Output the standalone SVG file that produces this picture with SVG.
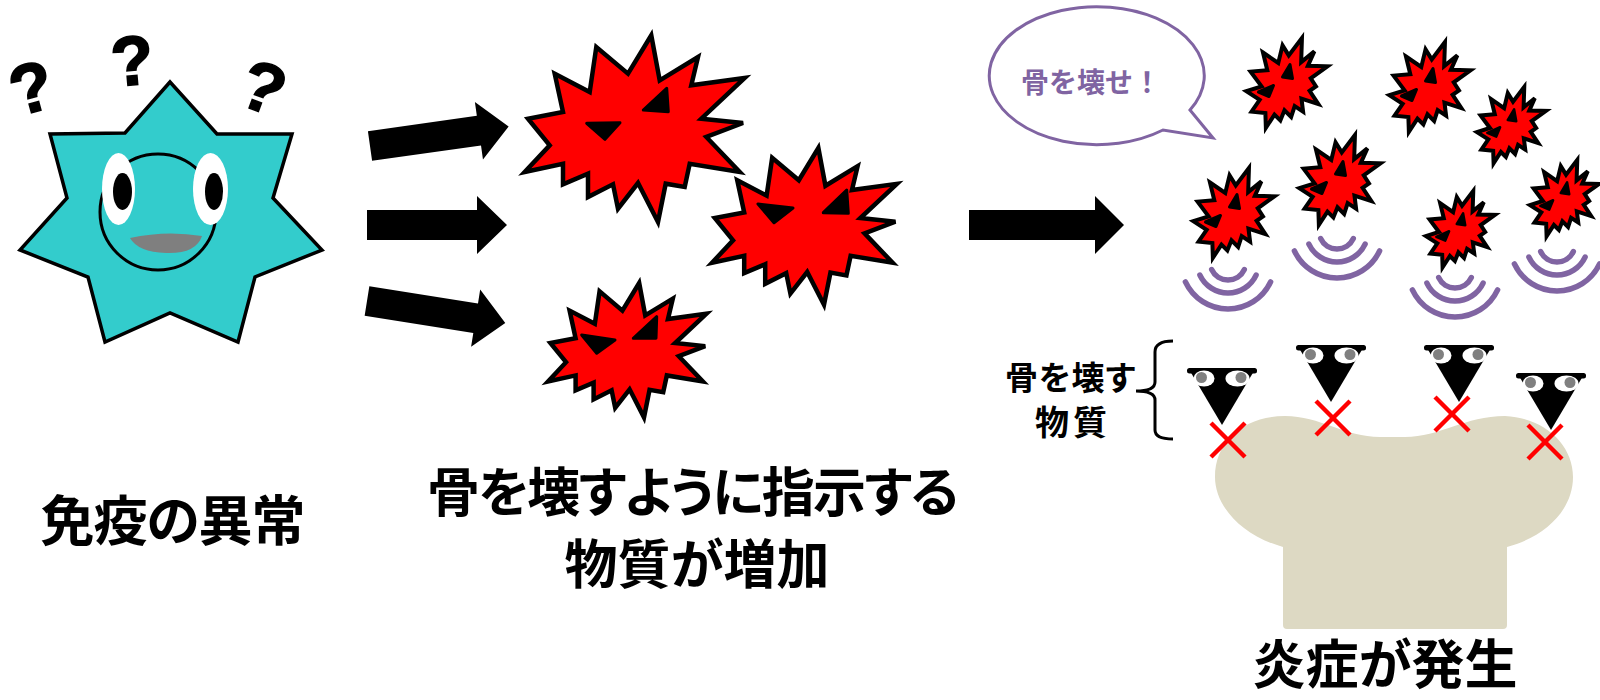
<svg xmlns="http://www.w3.org/2000/svg" xmlns:xlink="http://www.w3.org/1999/xlink" width="1600" height="700" viewBox="0 0 1600 700">
  <style>
    .label { font-family: "Noto Sans CJK JP", "Noto Sans", sans-serif; font-weight: bold; fill: #000; font-feature-settings: "palt"; }
    .qmark { font-family: "Liberation Sans", Arial, sans-serif; font-weight: bold; font-size: 70px; fill: #000; stroke: #000; stroke-width: 1.5; }
    .germ { fill: #FF0000; stroke: #000; stroke-linejoin: miter; }
    .eye { fill: #000; stroke: #000; stroke-width: 3; stroke-linejoin: round; }
    .wave { fill: none; stroke: #8064A2; stroke-width: 5.5; stroke-linecap: round; }
    .arrow { fill: #000; }
    .cross { stroke: #FF0000; stroke-width: 4.5; }
  </style>
  <defs>
    <!-- spiky cell outline, centred on the origin -->
    <path id="spike" vector-effect="non-scaling-stroke" d="M18.3,-91.7 L26.7,-46.7 L65,-70 L58.3,-41.7 L111.7,-49 L68.3,-8.3 L110,-4 L73.3,10 L106.7,45 L56.7,36.7 L51.7,60 L32.7,56.7 L25,95 L5,56 L-15,81.7 L-20,57.3 L-45,70 L-45,46.7 L-70,57.3 L-70,36.7 L-108.3,45 L-83.3,18.3 L-105,-8.3 L-70,-15 L-78.3,-53.3 L-43.3,-35 L-36.7,-80 L-5,-53.3 Z"/>
    <!-- small tilted cell with two eyes -->
    <g id="mini">
      <use href="#spike" class="germ" style="stroke-width:4" transform="scale(0.405) rotate(-45)"/>
      <polygon class="eye" style="stroke-width:3" points="-1.5,-7 6,-19.5 8.5,-5.5"/>
      <polygon class="eye" style="stroke-width:3" points="-25.5,8 -10.5,1.5 -15,12.5"/>
    </g>
    <!-- signal waves below a cell -->
    <g id="waves">
      <path class="wave" d="M16.3,7.6 A18,18 0 0 1 -16.3,7.6"/>
      <path class="wave" d="M28.1,13.1 A31,31 0 0 1 -28.1,13.1"/>
      <path class="wave" d="M42.6,19.9 A47,47 0 0 1 -42.6,19.9"/>
    </g>
    <!-- black triangle with eyes -->
    <g id="breaker">
      <rect x="-35" y="0" width="70" height="5.5" rx="2.5" fill="#000"/>
      <polygon points="-32,3 32,3 0,57" fill="#000"/>
      <ellipse cx="-18" cy="10.5" rx="10.5" ry="8" fill="#fff"/>
      <ellipse cx="15.5" cy="10.5" rx="12" ry="8" fill="#fff"/>
      <circle cx="-20.5" cy="9.5" r="5.5" fill="#808080"/>
      <circle cx="19" cy="9.5" r="5.5" fill="#808080"/>
    </g>
    <g id="xmark">
      <line class="cross" x1="-17" y1="-17" x2="17" y2="17"/>
      <line class="cross" x1="17" y1="-17" x2="-17" y2="17"/>
    </g>
  </defs>

  <rect width="1600" height="700" fill="#fff"/>

  <!-- confused immune cell -->
  <g id="immune-cell">
    <text class="qmark" x="31" y="112" text-anchor="middle" transform="rotate(-15 31 86)">?</text>
    <text class="qmark" x="132" y="85" text-anchor="middle" transform="rotate(-5 132 58)">?</text>
    <text class="qmark" x="264" y="112" text-anchor="middle" transform="rotate(20 264 86)">?</text>
    <polygon points="170,82 217,134 292,134 273,198 322,250 255,277 238,342 170,313 105,342 88,277 20,250 67,198 50,134 125,133" fill="#33CCCC" stroke="#000" stroke-width="3.5" stroke-linejoin="miter"/>
    <circle cx="158" cy="212" r="58" fill="none" stroke="#000" stroke-width="3"/>
    <ellipse cx="118.5" cy="189" rx="16.5" ry="36" fill="#fff"/>
    <ellipse cx="122.5" cy="191.5" rx="9.5" ry="18.5" fill="#000"/>
    <ellipse cx="210.5" cy="189" rx="17.5" ry="36" fill="#fff"/>
    <ellipse cx="214" cy="191.5" rx="9" ry="18.5" fill="#000"/>
    <path d="M130,238 Q166,230 202,236 Q196,254 166,253 Q138,252 130,238 Z" fill="#7F7F7F"/>
    <text class="label" x="173" y="541" font-size="54" text-anchor="middle" textLength="265">免疫の異常</text>
  </g>

  <!-- growing bone-breaking signal cells -->
  <g id="signal-cells">
    <use href="#spike" class="germ" style="stroke-width:4.5" transform="translate(633,127)"/>
    <polygon class="eye" points="586.7,123.3 620,122.7 605,139.3"/>
    <polygon class="eye" points="643.3,110 666.7,88.3 668.3,111.7"/>

    <use href="#spike" class="germ" style="stroke-width:4.5" transform="translate(803,225) scale(0.84)"/>
    <polygon class="eye" points="758,204 793,208 774,222.7"/>
    <polygon class="eye" points="823.3,212.7 846.7,190 848.3,213.3"/>

    <use href="#spike" class="germ" style="stroke-width:4.5" transform="translate(626,349) scale(0.72)"/>
    <polygon class="eye" points="581.7,335 615,340 596.7,353.3"/>
    <polygon class="eye" points="633.3,338.3 656.7,316.7 656,338.3"/>

    <text class="label" x="693" y="512" font-size="53" text-anchor="middle" textLength="532">骨を壊すように指示する</text>
    <text class="label" x="697" y="584" font-size="53" text-anchor="middle" textLength="265">物質が増加</text>
  </g>

  <!-- speech bubble -->
  <g id="speech">
    <path d="M1190,110 L1213,138 L1163,130 A107.5,69 0 1 1 1190,110 Z" fill="#fff" stroke="#8064A2" stroke-width="3" stroke-linejoin="miter"/>
    <text x="1091" y="93" font-family="'Noto Sans CJK JP', 'Noto Sans', sans-serif" font-weight="bold" font-size="28" fill="#8064A2" text-anchor="middle">骨を壊せ！</text>
  </g>

  <!-- swarm of cells sending signals -->
  <g id="swarm">
    <use href="#mini" transform="translate(1284,84)"/>
    <use href="#mini" transform="translate(1427,88)"/>
    <use href="#mini" transform="translate(1509,126) scale(0.85)"/>
    <use href="#mini" transform="translate(1337,181)"/>
    <use href="#mini" transform="translate(1231,214)"/>
    <use href="#mini" transform="translate(1458,230) scale(0.85)"/>
    <use href="#mini" transform="translate(1562,199) scale(0.85)"/>
    <use href="#waves" transform="translate(1228,262)"/>
    <use href="#waves" transform="translate(1337,231)"/>
    <use href="#waves" transform="translate(1455,270)"/>
    <use href="#waves" transform="translate(1557,244)"/>
  </g>

  <!-- bone under attack -->
  <g id="bone">
    <path d="M1283,625 L1283,547 C1240,535 1215,505 1215,477 C1215,440 1245,416 1285,416 C1320,416 1345,437 1380,437 L1405,437 C1440,437 1465,416 1505,416 C1545,418 1573,445 1573,477 C1573,510 1545,537 1507,547 L1507,625 Q1507,629 1503,629 L1287,629 Q1283,629 1283,625 Z" fill="#DDD9C3"/>
    <use href="#breaker" transform="translate(1222,368)"/>
    <use href="#breaker" transform="translate(1331,345)"/>
    <use href="#breaker" transform="translate(1459,345)"/>
    <use href="#breaker" transform="translate(1551,373)"/>
    <use href="#xmark" transform="translate(1228,440)"/>
    <use href="#xmark" transform="translate(1333,418)"/>
    <use href="#xmark" transform="translate(1452,414)"/>
    <use href="#xmark" transform="translate(1545,442)"/>
    <path d="M1173,341 Q1155,341 1155,352 L1155,382 Q1155,391 1136,391 Q1155,391 1155,400 L1155,430 Q1155,439 1173,439" fill="none" stroke="#000" stroke-width="3"/>
    <text class="label" x="1070" y="390" font-size="33" text-anchor="middle" textLength="130">骨を壊す</text>
    <text class="label" x="1071" y="435" font-size="34" text-anchor="middle" textLength="72">物質</text>
    <text class="label" x="1385" y="684" font-size="53" text-anchor="middle" textLength="265">炎症が発生</text>
  </g>

  <!-- block arrows -->
  <g id="connectors">
    <polygon class="arrow" transform="translate(370,146) rotate(-8)" points="0,-15 110,-15 110,-29 140,0 110,29 110,15 0,15"/>
    <polygon class="arrow" transform="translate(367,225)" points="0,-15 110,-15 110,-29 140,0 110,29 110,15 0,15"/>
    <polygon class="arrow" transform="translate(367,301) rotate(9)" points="0,-15 110,-15 110,-29 140,0 110,29 110,15 0,15"/>
    <polygon class="arrow" points="969,210 1095,210 1095,196 1124,225 1095,254 1095,240 969,240"/>
  </g>
</svg>
